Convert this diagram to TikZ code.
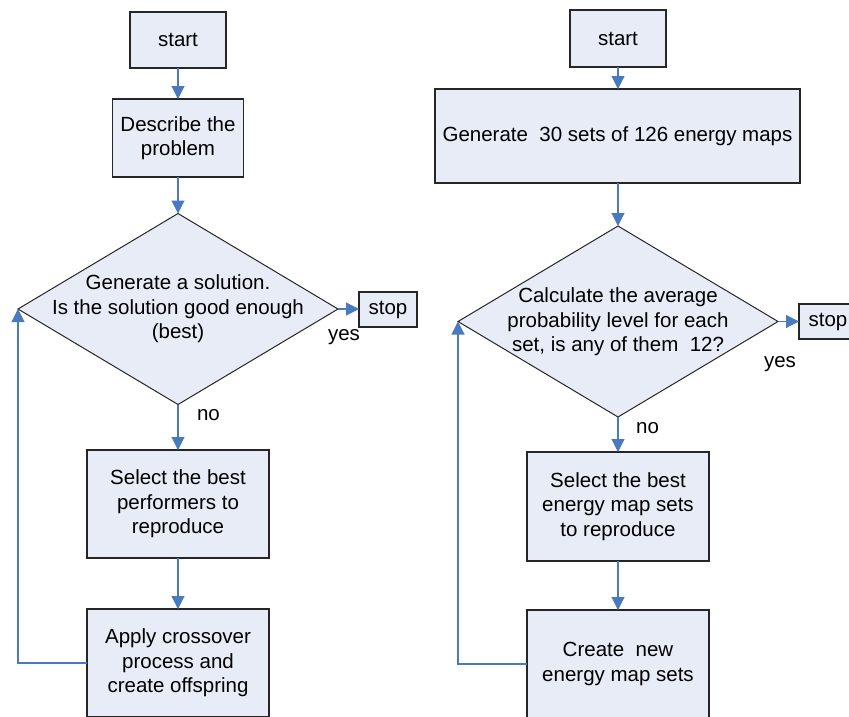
\documentclass[tikz,border=0pt]{standalone}
\usepackage{fontspec}
\setmainfont{Liberation Sans}
\usetikzlibrary{arrows.meta,shapes.geometric}
\definecolor{boxfill}{RGB}{231,236,247}
\definecolor{connblue}{RGB}{74,122,190}
\newcommand\figfont{\fontsize{20.5}{24.5}\selectfont}
\tikzset{
  box/.style={draw=black!85, line width=1.1pt, fill=boxfill, inner sep=0pt, outer sep=0pt, align=center, font=\figfont},
  dia/.style={diamond, draw=black!85, line width=1pt, fill=boxfill, inner sep=0pt, outer sep=0pt},
  ttext/.style={align=center, font=\figfont, inner sep=0pt},
  conn/.style={draw=connblue, line width=1.1pt, -{Triangle[length=13pt,width=13pt]}, color=connblue},
  lbl/.style={font=\figfont, inner sep=0pt}
}
\begin{document}
\begin{tikzpicture}[x=1pt,y=-1pt]
\useasboundingbox (0,0) rectangle (849,716);
\clip (0,0) rectangle (849,716);
% left chart
\node[box, minimum width=96pt, minimum height=56pt] (start1) at (178,40) {start};
\node[box, minimum width=131pt, minimum height=78pt] (desc1) at (178,138) {Describe the\\problem};
\node[dia, minimum width=320pt, minimum height=191pt] (dia1) at (178,309) {};
\node[ttext] (dia1t) at (178,309) {Generate a solution.\\Is the solution good enough\\(best)};
\node[box, minimum width=58pt, minimum height=35pt] (stop1) at (388,309.5) {stop};
\node[box, minimum width=182pt, minimum height=108pt] (sel1) at (178,504) {Select the best\\performers to\\reproduce};
\node[box, minimum width=182pt, minimum height=108pt] (app1) at (178,663) {Apply crossover\\process and\\create offspring};
\node[lbl] (yes1) at (344,337) {yes};
\node[lbl] (no1) at (208.5,415) {no};
\draw[conn] (start1) -- (desc1);
\draw[conn] (desc1) -- (dia1);
\draw[conn] (dia1) -- (sel1);
\draw[conn] (sel1) -- (app1);
\draw[conn] (dia1.east) -- (stop1.west |- dia1.east);
\draw[conn] (app1.west) -| (dia1.west);
% right chart
\node[box, minimum width=96pt, minimum height=57pt] (start2) at (618,38.5) {start};
\node[box, minimum width=365pt, minimum height=94pt] (gen2) at (617.5,136) {Generate\ \ 30 sets of 126 energy maps};
\node[dia, minimum width=320pt, minimum height=191pt] (dia2) at (618,321.5) {};
\node[ttext] (dia2t) at (618,322) {Calculate the average\\probability level for each\\set, is any of them\ \ 12?};
\node[box, minimum width=58pt, minimum height=35pt] (stop2) at (828,321.5) {stop};
\node[box, minimum width=182pt, minimum height=109pt] (sel2) at (618,506.5) {Select the best\\energy map sets\\to reproduce};
\node[box, minimum width=182pt, minimum height=108pt] (cre2) at (618,664) {Create\ \ new\\energy map sets};
\node[lbl] (yes2) at (780,364) {yes};
\node[lbl] (no2) at (647.5,428) {no};
\draw[conn] (start2) -- (start2 |- gen2.north);
\draw[conn] (gen2.south -| dia2.north) -- (dia2.north);
\draw[conn] (dia2) -- (sel2);
\draw[conn] (sel2) -- (cre2);
\draw[conn] (dia2.east) -- (stop2.west);
\draw[conn] (cre2.west) -| (dia2.west);
\end{tikzpicture}
\end{document}
